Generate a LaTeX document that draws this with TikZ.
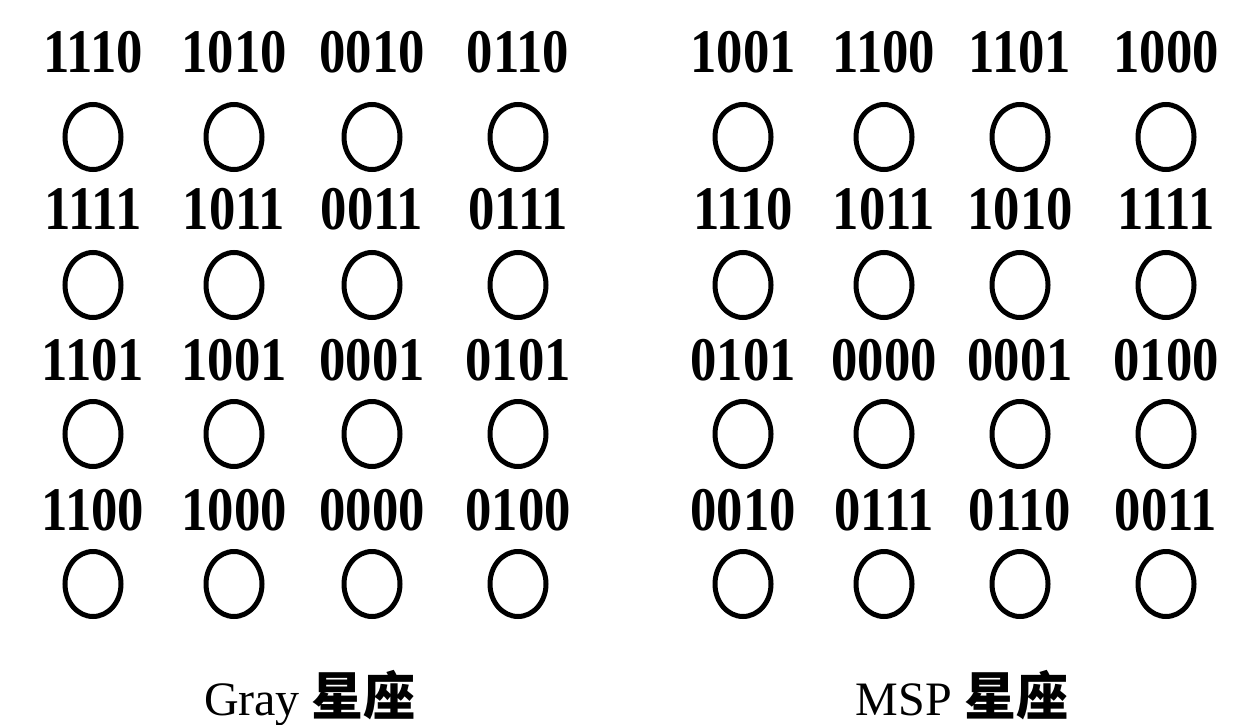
\documentclass[tikz,border=0pt]{standalone}
\usepackage{fontspec}
\usepackage{graphicx}
\setmainfont{Liberation Serif}
\newfontfamily\cjk{Noto Sans CJK SC}
\usetikzlibrary{shapes.geometric}
\tikzset{
  lab/.style={font=\fontsize{62}{62}\selectfont\bfseries, anchor=base, inner sep=0pt},
  pointdot/.style={draw, ellipse, line width=5pt, minimum width=56pt, minimum height=65pt, inner sep=0pt},
  captext/.style={font=\fontsize{48}{48}\selectfont, anchor=base, inner sep=0pt}
}
\begin{document}
\begin{tikzpicture}[x=1pt,y=-1pt]
\useasboundingbox (0,0) rectangle (1255,725);
% Gray constellation
\foreach \r/\yc/\yl/\row in {1/137/72/{1110,1010,0010,0110},2/285/229/{1111,1011,0011,0111},3/434/380/{1101,1001,0001,0101},4/584/530/{1100,1000,0000,0100}}{
  \foreach \t [count=\c] in \row {
    \pgfmathsetmacro{\xx}{{93,234,372,518}[\c-1]}
    \node[lab] (gl\r\c) at (\xx,\yl) {\scalebox{0.85}[1]{\t}};
    \node[pointdot] (g\r\c) at (\xx,\yc) {};
  }
}
% MSP constellation
\foreach \r/\yc/\yl/\row in {1/137/72/{1001,1100,1101,1000},2/285/229/{1110,1011,1010,1111},3/434/380/{0101,0000,0001,0100},4/584/530/{0010,0111,0110,0011}}{
  \foreach \t [count=\c] in \row {
    \pgfmathsetmacro{\xx}{{743,884,1020,1166}[\c-1]}
    \node[lab] (ml\r\c) at (\xx,\yl) {\scalebox{0.85}[1]{\t}};
    \node[pointdot] (m\r\c) at (\xx,\yc) {};
  }
}
\node[captext] (gcap) at (310,715) {Gray {\cjk\fontsize{52}{52}\selectfont\bfseries 星座}};
\node[captext] (mcap) at (962,715) {MSP {\cjk\fontsize{52}{52}\selectfont\bfseries 星座}};
\end{tikzpicture}
\end{document}
